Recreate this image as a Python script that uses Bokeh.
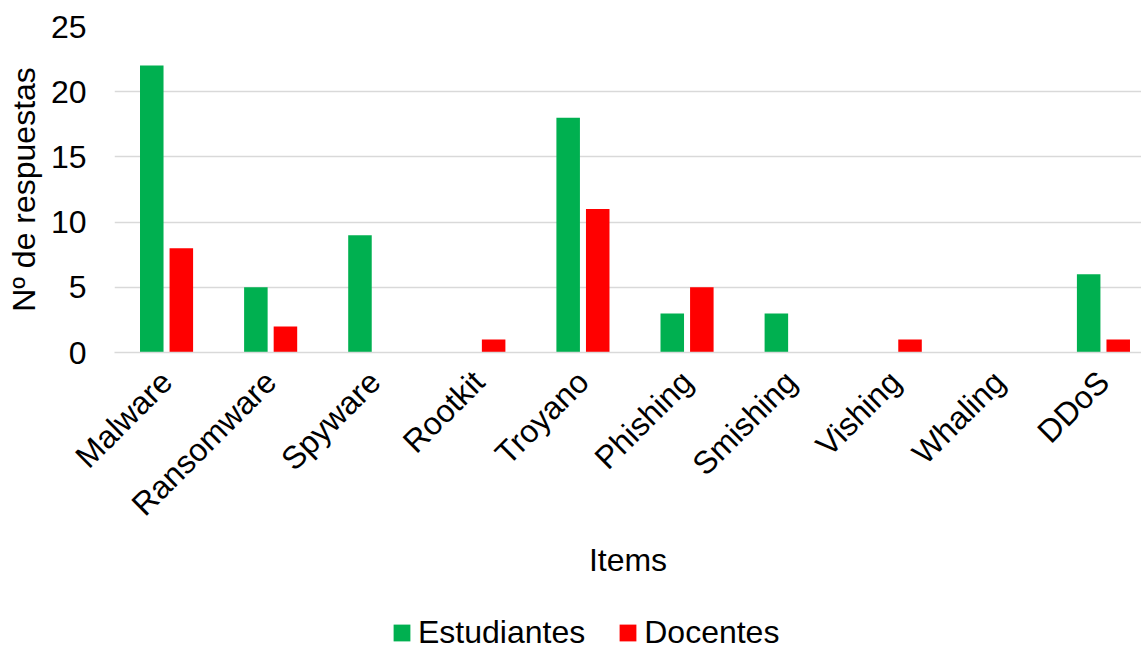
from bokeh.plotting import figure
from bokeh.layouts import column
from bokeh.models import (ColumnDataSource, Range1d, FixedTicker, Legend, LegendItem,
                          LinearAxis)
from bokeh.transform import dodge
from bokeh.embed import file_html
from bokeh.resources import INLINE

categories = ["Malware", "Ransomware", "Spyware", "Rootkit", "Troyano",
              "Phishing", "Smishing", "Vishing", "Whaling", "DDoS"]
estudiantes = [22, 5, 9, 0, 18, 3, 3, 0, 0, 6]
docentes = [8, 2, 0, 1, 11, 5, 0, 1, 0, 1]
y_ticks = [0, 5, 10, 15, 20, 25]
series_names = ["Estudiantes", "Docentes"]

FONT = "Liberation Sans"
FS = "32px"
GREEN = "#00b050"
RED = "#ff0000"

xpos = [i + 0.5 for i in range(len(categories))]
src = ColumnDataSource(dict(x=xpos, cat=categories, est=estudiantes, doc=docentes))

# the reference plot area continues past the right edge of the picture
p = figure(frame_width=1027, frame_height=326,
           x_range=Range1d(0, 1027 / 104.1), y_range=Range1d(0, 25),
           x_axis_location=None, output_backend="svg", toolbar_location=None,
           min_border_left=114, min_border_right=0, min_border_top=26,
           min_border_bottom=248)
p.outline_line_color = None

p.vbar(x=dodge("x", -0.142), top="est", width=0.226,
       source=src, fill_color=GREEN, line_color=None)
p.vbar(x=dodge("x", 0.142), top="doc", width=0.226,
       source=src, fill_color=RED, line_color=None)

p.xgrid.visible = False
p.ygrid.grid_line_color = "#d9d9d9"
p.ygrid.grid_line_width = 1.5
p.yaxis.ticker = FixedTicker(ticks=y_ticks)

p.yaxis.axis_line_color = None
p.yaxis.major_tick_line_color = None
p.yaxis.minor_tick_line_color = None
p.yaxis.major_tick_out = 0
p.yaxis.minor_tick_out = 0
p.yaxis.major_label_text_font = FONT
p.yaxis.major_label_text_font_size = FS
p.yaxis.major_label_text_color = "#000000"
p.yaxis.major_label_standoff = 28
p.yaxis.axis_label = "Nº de respuestas"
p.yaxis.axis_label_text_font = FONT
p.yaxis.axis_label_text_font_size = FS
p.yaxis.axis_label_text_font_style = "normal"
p.yaxis.axis_label_text_color = "#000000"
p.yaxis.axis_label_standoff = 6

xaxis = LinearAxis(ticker=FixedTicker(ticks=xpos),
                   major_label_overrides={x: c for x, c in zip(xpos, categories)})
xaxis.axis_line_color = "#d9d9d9"
xaxis.axis_line_width = 1.5
xaxis.major_tick_line_color = None
xaxis.minor_tick_line_color = None
xaxis.major_tick_out = 0
xaxis.minor_tick_out = 0
xaxis.major_label_orientation = 0.785398
xaxis.major_label_text_font = FONT
xaxis.major_label_text_font_size = FS
xaxis.major_label_text_color = "#000000"
xaxis.major_label_standoff = 24
xaxis.axis_label = "Items"
xaxis.axis_label_text_font = FONT
xaxis.axis_label_text_font_size = FS
xaxis.axis_label_text_font_style = "normal"
xaxis.axis_label_text_color = "#000000"
xaxis.axis_label_standoff = 4
p.add_layout(xaxis, "below")

# legend strip under the chart (swatch glyphs sit outside its visible range)
lg = figure(width=1141, height=45, x_range=Range1d(0, 1), y_range=Range1d(0, 1),
            x_axis_location=None, y_axis_location=None,
            output_backend="svg", toolbar_location=None, min_border=0)
lg.outline_line_color = None
lg.xgrid.visible = False
lg.ygrid.visible = False
g1 = lg.vbar(x=[5], top=[0], width=0.1, fill_color=GREEN, line_color=None)
g2 = lg.vbar(x=[5], top=[0], width=0.1, fill_color=RED, line_color=None)
legend = Legend(items=[LegendItem(label=series_names[0], renderers=[g1]),
                       LegendItem(label=series_names[1], renderers=[g2])],
                orientation="horizontal", location=(277, -6),
                glyph_width=21, glyph_height=21, label_standoff=6, spacing=32,
                label_text_font=FONT, label_text_font_size=FS,
                label_text_color="#000000", border_line_color=None,
                background_fill_alpha=0, margin=0, padding=0)
lg.add_layout(legend, "center")

layout = column(p, lg, spacing=0)
open("out.html", "w").write(file_html(layout, INLINE))
